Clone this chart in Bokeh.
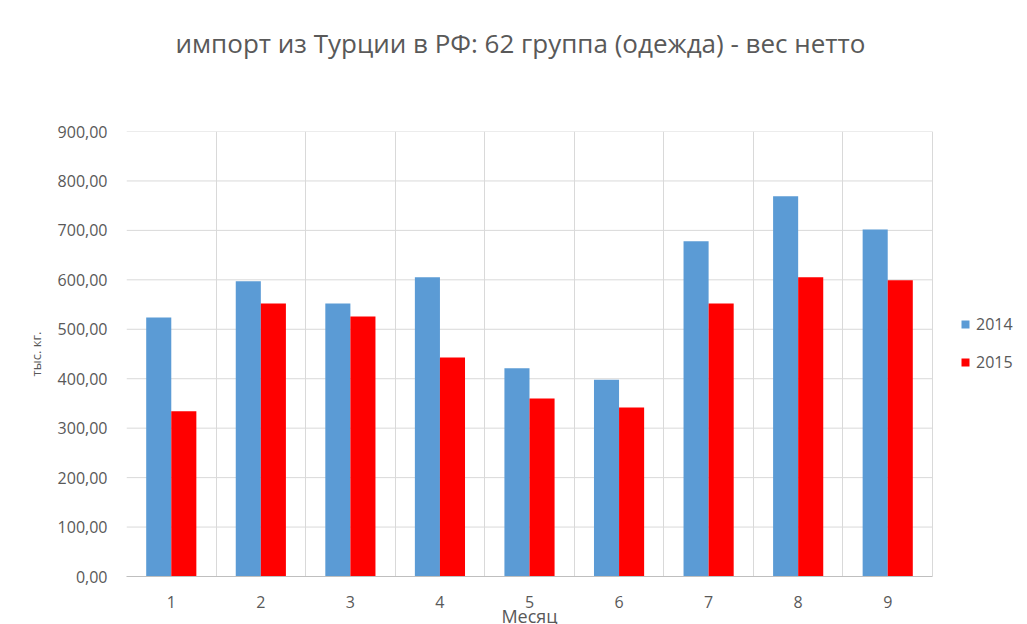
from bokeh.plotting import figure
from bokeh.models import (Range1d, FixedTicker, CustomJSTickFormatter, Legend, LegendItem,
                          ColumnDataSource, Div)
from bokeh.layouts import column
from bokeh.transform import dodge
from bokeh.embed import file_html
from bokeh.resources import INLINE

months = [1, 2, 3, 4, 5, 6, 7, 8, 9]
y2014 = [524, 597, 552, 605, 421, 398, 678, 769, 702]
y2015 = [334, 552, 526, 443, 360, 342, 552, 605, 599]
series_names = ["2014", "2015"]
y_ticks = [0, 100, 200, 300, 400, 500, 600, 700, 800, 900]
title_text = "импорт из Турции в РФ: 62 группа (одежда) - вес нетто"
x_label = "Месяц"
y_label = "тыс. кг."

FONT = "Open Sans"
GRAY = "#595959"
GRID = "#d9d9d9"

src = ColumnDataSource(dict(m=months, a=y2014, b=y2015))
x_lo, x_hi = months[0] - 0.5, months[-1] + 0.5

# frame extended to the right to host the legend (89 px beyond the last category)
p = figure(frame_width=895, frame_height=445, output_backend="svg", toolbar_location=None,
           x_range=Range1d(x_lo, x_hi + 89 / (806 / 9)), y_range=Range1d(0, 900),
           min_border_left=126, min_border_right=0, min_border_top=41, min_border_bottom=40,
           margin=0)

# horizontal gridlines limited to the category area
gl = p.segment(x0=x_lo, x1=x_hi, y0=y_ticks[1:], y1=y_ticks[1:], line_color=GRID, line_width=1)
gl.level = "underlay"

r1 = p.vbar(x=dodge("m", -0.14, range=p.x_range), top="a", width=0.28, source=src,
            fill_color="#5B9BD5", line_color=None)
r2 = p.vbar(x=dodge("m", 0.14, range=p.x_range), top="b", width=0.28, source=src,
            fill_color="#FF0000", line_color=None)

p.outline_line_color = None
p.background_fill_color = "white"
p.border_fill_color = "white"

# grids
p.xgrid.ticker = FixedTicker(ticks=[m + 0.5 for m in [0] + months])
p.xgrid.grid_line_color = GRID
p.ygrid.grid_line_color = None

# x axis
p.xaxis.ticker = FixedTicker(ticks=months)
p.xaxis.bounds = (x_lo, x_hi)
p.xaxis.axis_line_color = "#bfbfbf"
p.xaxis.major_tick_line_color = None
p.xaxis.minor_tick_line_color = None
p.xaxis.major_label_standoff = 13
p.xaxis.major_label_text_font = FONT
p.xaxis.major_label_text_font_size = "16px"
p.xaxis.major_label_text_color = GRAY

# y axis
p.yaxis.ticker = FixedTicker(ticks=y_ticks)
p.yaxis.formatter = CustomJSTickFormatter(code="return tick.toFixed(2).replace('.', ',');")
p.yaxis.axis_line_color = None
p.yaxis.major_tick_line_color = None
p.yaxis.minor_tick_line_color = None
p.yaxis.major_label_standoff = 13
p.yaxis.major_label_text_font = FONT
p.yaxis.major_label_text_font_size = "16px"
p.yaxis.major_label_text_color = GRAY
p.yaxis.axis_label = y_label
p.yaxis.axis_label_text_font = FONT
p.yaxis.axis_label_text_font_size = "13px"
p.yaxis.axis_label_text_font_style = "normal"
p.yaxis.axis_label_text_color = GRAY
p.yaxis.axis_label_standoff = 10

legend = Legend(items=[LegendItem(label=series_names[0], renderers=[r1]),
                       LegendItem(label=series_names[1], renderers=[r2])],
                location=(834, 203), orientation="vertical",
                glyph_width=10, glyph_height=10, label_height=20, spacing=16,
                label_text_font=FONT, label_text_font_size="16px", label_text_color=GRAY,
                border_line_color=None, background_fill_alpha=0, padding=0, margin=0,
                label_standoff=6)
p.add_layout(legend, "center")

title = Div(width=1021, height=90, margin=0,
            text=('<div style="width:1021px;margin:0;padding-top:26px;line-height:35px;'
                  'text-align:center;position:relative;left:10px;'
                  f'font-family:\'Open Sans\';font-size:26px;color:{GRAY}">{title_text}</div>'))

xlab = Div(width=1021, height=8, margin=0,
           text=('<div style="width:1021px;margin:0;padding:0;line-height:16px;'
                 'text-align:center;position:relative;left:19px;top:-8px;'
                 f'font-family:\'Open Sans\';font-size:18px;color:{GRAY}">{x_label}</div>'))

layout = column(title, p, xlab, spacing=0)

open("out.html", "w").write(file_html(layout, INLINE))
